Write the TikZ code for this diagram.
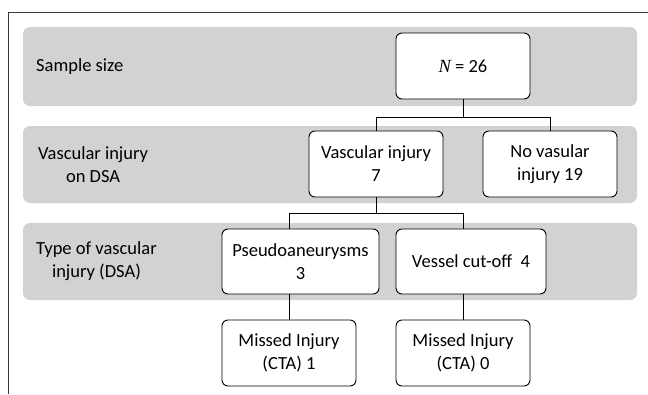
\documentclass[tikz,border=0pt]{standalone}
\usepackage{fontspec}
\setmainfont{Carlito}
\newfontfamily\serifit{Liberation Serif}
\definecolor{bandgray}{HTML}{D1D2D4}
\definecolor{framec}{HTML}{3A3A3A}
\begin{document}
\begin{tikzpicture}[x=1pt,y=-1pt,
  band/.style={fill=bandgray, draw=none, rounded corners=7pt},
  box/.style={draw=black, fill=white, rounded corners=6pt, line width=0.9pt, align=center, inner sep=0pt, minimum height=66pt, font=\fontsize{18.5}{23}\selectfont},
  lbl/.style={align=center, anchor=west, inner sep=0pt, font=\fontsize{18.5}{23}\selectfont},
  conn/.style={draw=black, line width=0.9pt}]
\useasboundingbox (0,0) rectangle (648,394);
% frame
\draw[framec, line width=0.9pt] (8,394) -- (8,12.5) -- (648,12.5);
% bands
\fill[band] (23,27) rectangle (637,106);
\fill[band] (23,126) rectangle (637,203);
\fill[band] (23,223) rectangle (637,300);
% row labels
\node[lbl] (l1) at (36,67) {Sample size};
\node[lbl] (l2) at (38,165) {Vascular injury\\on DSA};
\node[lbl] (l3) at (36,261) {Type of vascular\\injury (DSA)};
% boxes
\node[box, minimum width=134pt] (N) at (463,66) {{\serifit\itshape N} = 26};
\node[box, minimum width=134pt] (VI) at (376,164) {Vascular injury\\7};
\node[box, minimum width=134pt] (NVI) at (550,164) {No vasular\\injury 19};
\node[box, minimum width=157pt, minimum height=65pt] (PA) at (300.5,261.5) {Pseudoaneurysms\\3};
\node[box, minimum width=150pt, minimum height=65pt] (VC) at (471,261.5) {Vessel cut-off\ \ 4};
\node[box, minimum width=134pt] (M1) at (289,353) {Missed Injury\\(CTA) 1};
\node[box, minimum width=134pt] (M2) at (463,353) {Missed Injury\\(CTA) 0};
% connectors
\coordinate (j1) at (463,117);
\coordinate (j2) at (376,213);
\draw[conn] (N.south) -- (j1);
\draw[conn] (VI.north |- j1) -- (NVI.north |- j1);
\draw[conn] (VI.north |- j1) -- (VI.north);
\draw[conn] (NVI.north |- j1) -- (NVI.north);
\draw[conn] (VI.south) -- (j2);
\draw[conn] (M1.north |- j2) -- (M2.north |- j2);
\draw[conn] (M1.north |- j2) -- (M1.north |- PA.north);
\draw[conn] (M2.north |- j2) -- (M2.north |- VC.north);
\draw[conn] (M1.north |- PA.south) -- (M1.north);
\draw[conn] (M2.north |- VC.south) -- (M2.north);
\end{tikzpicture}
\end{document}
